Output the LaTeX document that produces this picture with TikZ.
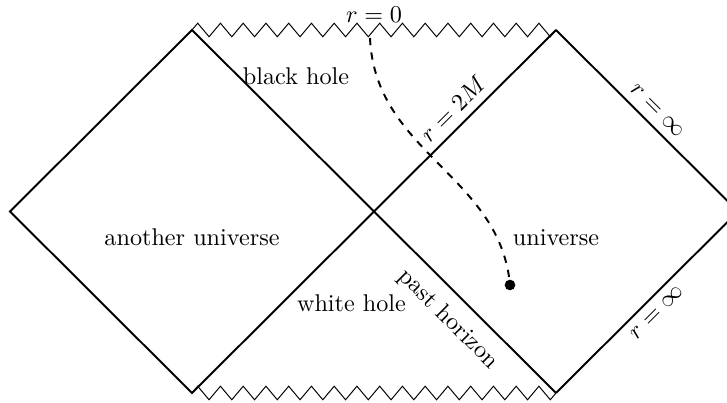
\documentclass[tikz,border=0pt]{standalone}
\usetikzlibrary{decorations.pathmorphing}
\begin{document}
\begin{tikzpicture}[x=0.4132pt,y=0.4132pt,
  edge/.style={thick},
  singular/.style={decorate,decoration={zigzag,segment length=9.4pt,amplitude=2.8pt}},
  worldline/.style={thick,dashed},
  lbl/.style={inner sep=3.33pt}]
\useasboundingbox (0,0) rectangle (727,403);
\coordinate (L) at (10,191.5);
\coordinate (T1) at (192,373);
\coordinate (C) at (374,191.5);
\coordinate (B1) at (192,10);
\coordinate (T2) at (556,373);
\coordinate (R) at (738,191.5);
\coordinate (B2) at (556,10);
% diamonds
\draw[edge] (L) -- (T1) -- (C) -- (B1) -- cycle;
\draw[edge] (C) -- node[midway,sloped,above,lbl] (l2m) {$r=2M$} (T2);
\draw[edge] (T2) -- node[midway,sloped,above,lbl] (linf1) {$r=\infty$} (R);
\draw[edge] (B2) -- node[midway,sloped,below,lbl] (linf2) {$r=\infty$} (R);
\draw[edge] (C) -- node[midway,sloped,below,inner sep=5pt] (lph) {past horizon} (B2);
% singularities
\draw[singular] (T1) -- (T2);
\draw[singular] (B1) -- (B2);
% labels
\node (r0) at (374,388.5) {$r=0$};
\node (bh) at (296,327) {black hole};
\node (wh) at (351.5,100) {white hole};
\node (au) at (192,165.5) {another universe};
\node (u) at (556,165.5) {universe};
% world line
\coordinate (ws) at (370,365);
\node[circle,fill,inner sep=0pt,minimum size=4.4pt] (dot) at (510,118) {};
\draw[worldline] (ws) .. controls (375,250) and (500,228) .. (dot.center);
\end{tikzpicture}
\end{document}
